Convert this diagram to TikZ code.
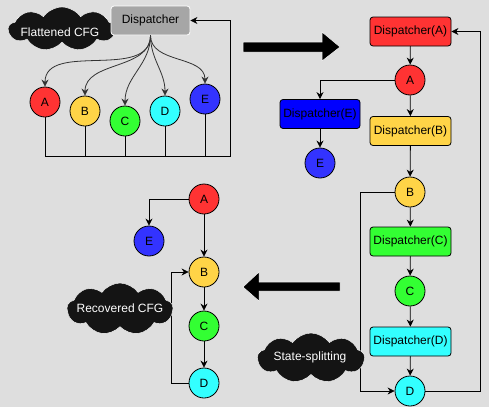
\documentclass[tikz,border=0pt]{standalone}
\usepackage{fontspec}
\setmainfont{Liberation Sans}
\usetikzlibrary{shapes.symbols,arrows.meta}
\definecolor{bg}{HTML}{DEDEDE}
\definecolor{cred}{HTML}{FF3333}
\definecolor{cyel}{HTML}{FFD447}
\definecolor{cgrn}{HTML}{33FF33}
\definecolor{ccya}{HTML}{33FFFF}
\definecolor{cblu}{HTML}{3333FF}
\definecolor{dblu}{HTML}{0000FF}
\definecolor{dgray}{HTML}{A6A6A6}
\definecolor{cloudblk}{HTML}{141414}
\tikzset{
  blk/.style={circle, draw, minimum size=30pt, inner sep=0pt},
  dbox/.style={rectangle, draw, rounded corners=3pt, minimum width=81pt, minimum height=29pt, inner sep=0pt},
  cld/.style={cloud, cloud puffs=9, cloud puff arc=110, aspect=2.2, fill=cloudblk, draw=white, line width=0.4pt, text=white, inner sep=0pt},
  bigarrow/.style={fill=black, draw=white, line width=0.5pt}
}
\begin{document}
\begin{tikzpicture}[x=1pt, y=-1pt, font=\fontsize{12}{14}\selectfont, line width=0.8pt, >={Stealth[length=7pt,width=7pt]}]
  \path[use as bounding box, fill=bg] (0,0) rectangle (489,407);
  % flattened CFG
  \node[cld, minimum width=107pt, minimum height=44pt] (FCFG) at (62,29) {};
  \node[text=white] at (60,32) {Flattened CFG};
  \node[dbox, fill=dgray, draw=white, minimum width=79pt] (Disp) at (150.5,20.5) {Dispatcher};
  \node[blk, fill=cred] (A1) at (45,102) {A};
  \node[blk, fill=cyel] (B1) at (85,111) {B};
  \node[blk, fill=cgrn] (C1) at (125,121) {C};
  \node[blk, fill=ccya] (D1) at (165,111) {D};
  \node[blk, fill=cblu] (E1) at (205,99) {E};
  \draw[->, black!80] (Disp.south) to[out=-90, in=90] (A1.north);
  \draw[->, black!80] (Disp.south) to[out=-90, in=90] (B1.north);
  \draw[->, black!80] (Disp.south) to[out=-90, in=90] (C1.north);
  \draw[->, black!80] (Disp.south) to[out=-90, in=90] (D1.north);
  \draw[->, black!80] (Disp.south) to[out=-90, in=90] (E1.north);
  \coordinate (R1) at (230,156);
  \draw[->] (A1) |- (R1) |- (Disp);
  \draw (B1.south) -- (B1.south |- R1);
  \draw (C1.south) -- (C1.south |- R1);
  \draw (D1.south) -- (D1.south |- R1);
  \draw (E1.south) -- (E1.south |- R1);
  % big arrows
  \draw[bigarrow] (243,42) -- (322,42) -- (322,32) -- (340,47) -- (322,61) -- (322,52) -- (243,52) -- cycle;
  \draw[bigarrow] (340,282) -- (259,282) -- (259,272) -- (243,287) -- (259,301) -- (259,291) -- (340,291) -- cycle;
  % state-splitting
  \node[dbox, fill=cred] (DA) at (410.5,31.5) {Dispatcher(A)};
  \node[blk, fill=cred] (A2) at (410,80) {A};
  \node[dbox, fill=dblu, minimum width=80pt] (DE) at (320,114) {Dispatcher(E)};
  \node[blk, fill=cblu] (E2) at (320,163) {E};
  \node[dbox, fill=cyel] (DB) at (410.5,131) {Dispatcher(B)};
  \node[blk, fill=cyel] (B2) at (410,192) {B};
  \node[dbox, fill=cgrn] (DC) at (410.5,241.5) {Dispatcher(C)};
  \node[blk, fill=cgrn] (C2) at (410,291) {C};
  \node[dbox, fill=ccya] (DD) at (410.5,341.5) {Dispatcher(D)};
  \node[blk, fill=ccya] (D2) at (410,391) {D};
  \draw[->] (DA) -- (A2);
  \draw[->] (A2) -| (DE);
  \draw[->] (DE) -- (E2);
  \draw[->] (A2) -- (DB);
  \draw[->] (DB) -- (B2);
  \draw[->] (B2) -- (DC);
  \draw[->] (DC) -- (C2);
  \draw[->] (C2) -- (DD);
  \draw[->] (DD) -- (D2);
  \coordinate (L2) at (360,192);
  \draw[->] (B2) -- (L2) |- (D2);
  \coordinate (R2) at (480,391);
  \draw[->] (D2) -- (R2) |- (DA);
  \node[cld, minimum width=107pt, minimum height=50pt] (SS) at (311,358) {};
  \node[text=white] at (310,357) {State-splitting};
  % recovered CFG
  \node[blk, fill=cred] (A3) at (204,199) {A};
  \node[blk, fill=cblu] (E3) at (149,241) {E};
  \node[blk, fill=cyel] (B3) at (204,272) {B};
  \node[blk, fill=cgrn] (C3) at (204,326) {C};
  \node[blk, fill=ccya] (D3) at (204,383) {D};
  \draw[->] (A3) -| (E3);
  \draw[->] (A3) -- (B3);
  \draw[->] (B3) -- (C3);
  \draw[->] (C3) -- (D3);
  \coordinate (L3) at (171,383);
  \draw[->] (D3) -- (L3) |- (B3);
  \node[cld, minimum width=106pt, minimum height=52pt] (RCFG) at (120,309) {};
  \node[text=white] at (120,308) {Recovered CFG};
\end{tikzpicture}
\end{document}
